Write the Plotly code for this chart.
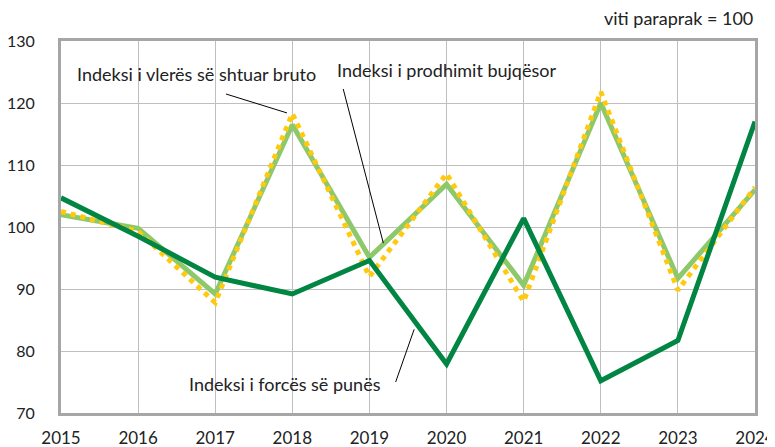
import plotly.graph_objects as go

years = [2015, 2016, 2017, 2018, 2019, 2020, 2021, 2022, 2023, 2024]
labour = [104.7, 98.5, 91.9, 89.2, 94.6, 77.9, 101.4, 75.2, 81.7, 117.0]
agri = [102.0, 99.8, 89.2, 116.5, 95.1, 106.9, 90.6, 120.0, 91.7, 106.0]
gva = [102.5, 99.3, 87.8, 118.3, 92.0, 108.6, 88.0, 121.8, 89.8, 106.4]
yticks = [70, 80, 90, 100, 110, 120, 130]

FONT = "Lato"
fig = go.Figure()
fig.add_trace(go.Scatter(x=years, y=agri, mode="lines",
                         line=dict(color="#8DC86A", width=5), showlegend=False))
fig.add_trace(go.Scatter(x=years, y=gva, mode="lines",
                         line=dict(color="#FFC90E", width=5, dash="dot"), showlegend=False))
fig.add_trace(go.Scatter(x=years, y=labour, mode="lines",
                         line=dict(color="#008543", width=5), showlegend=False))

# page body has an 8px margin, so the figure is placed at (8, 8)
fig.update_layout(
    width=767, height=439,
    margin=dict(l=53, r=20, t=33, b=34),
    plot_bgcolor="white", paper_bgcolor="white",
    font=dict(family=FONT, size=17, color="#222222"),
    xaxis=dict(range=[2015, 2024], tickvals=years, ticktext=[str(y) for y in years],
               showgrid=True, gridcolor="#BFBFBF", gridwidth=1,
               showline=True, linecolor="#A6A6A6", linewidth=3, mirror=True,
               ticks="outside", ticklen=8, tickcolor="rgba(0,0,0,0)",
               zeroline=False, automargin=False),
    yaxis=dict(range=[70, 130], tickvals=yticks, tickfont=dict(size=16),
               showgrid=True, gridcolor="#BFBFBF", gridwidth=1,
               showline=True, linecolor="#A6A6A6", linewidth=3, mirror=True,
               ticks="outside", ticklen=20, tickcolor="rgba(0,0,0,0)",
               zeroline=False, automargin=False),
)

ann_font = dict(family=FONT, size=18, color="#222222")
fig.add_annotation(text="viti paraprak = 100", xref="paper", yref="paper",
                   x=1.0, y=1.0, yshift=23, xanchor="right", yanchor="middle",
                   showarrow=False, font=ann_font)
fig.add_annotation(text="Indeksi i vlerës së shtuar bruto", x=2016.76, y=124.6,
                   showarrow=False, font=ann_font)
fig.add_annotation(text="Indeksi i prodhimit bujqësor", x=2020.0, y=125.4,
                   showarrow=False, font=ann_font)
fig.add_annotation(text="Indeksi i forcës së punës", x=2017.9, y=74.7,
                   showarrow=False, font=ann_font)

# leader lines
fig.add_shape(type="line", x0=2017.14, y0=121.45, x1=2017.93, y1=118.4,
              line=dict(color="black", width=1))
fig.add_shape(type="line", x0=2018.66, y0=122.26, x1=2019.18, y1=97.4,
              line=dict(color="black", width=1))
fig.add_shape(type="line", x0=2019.34, y0=75.0, x1=2019.58, y1=83.5,
              line=dict(color="black", width=1))

fig.write_html("out.html")
